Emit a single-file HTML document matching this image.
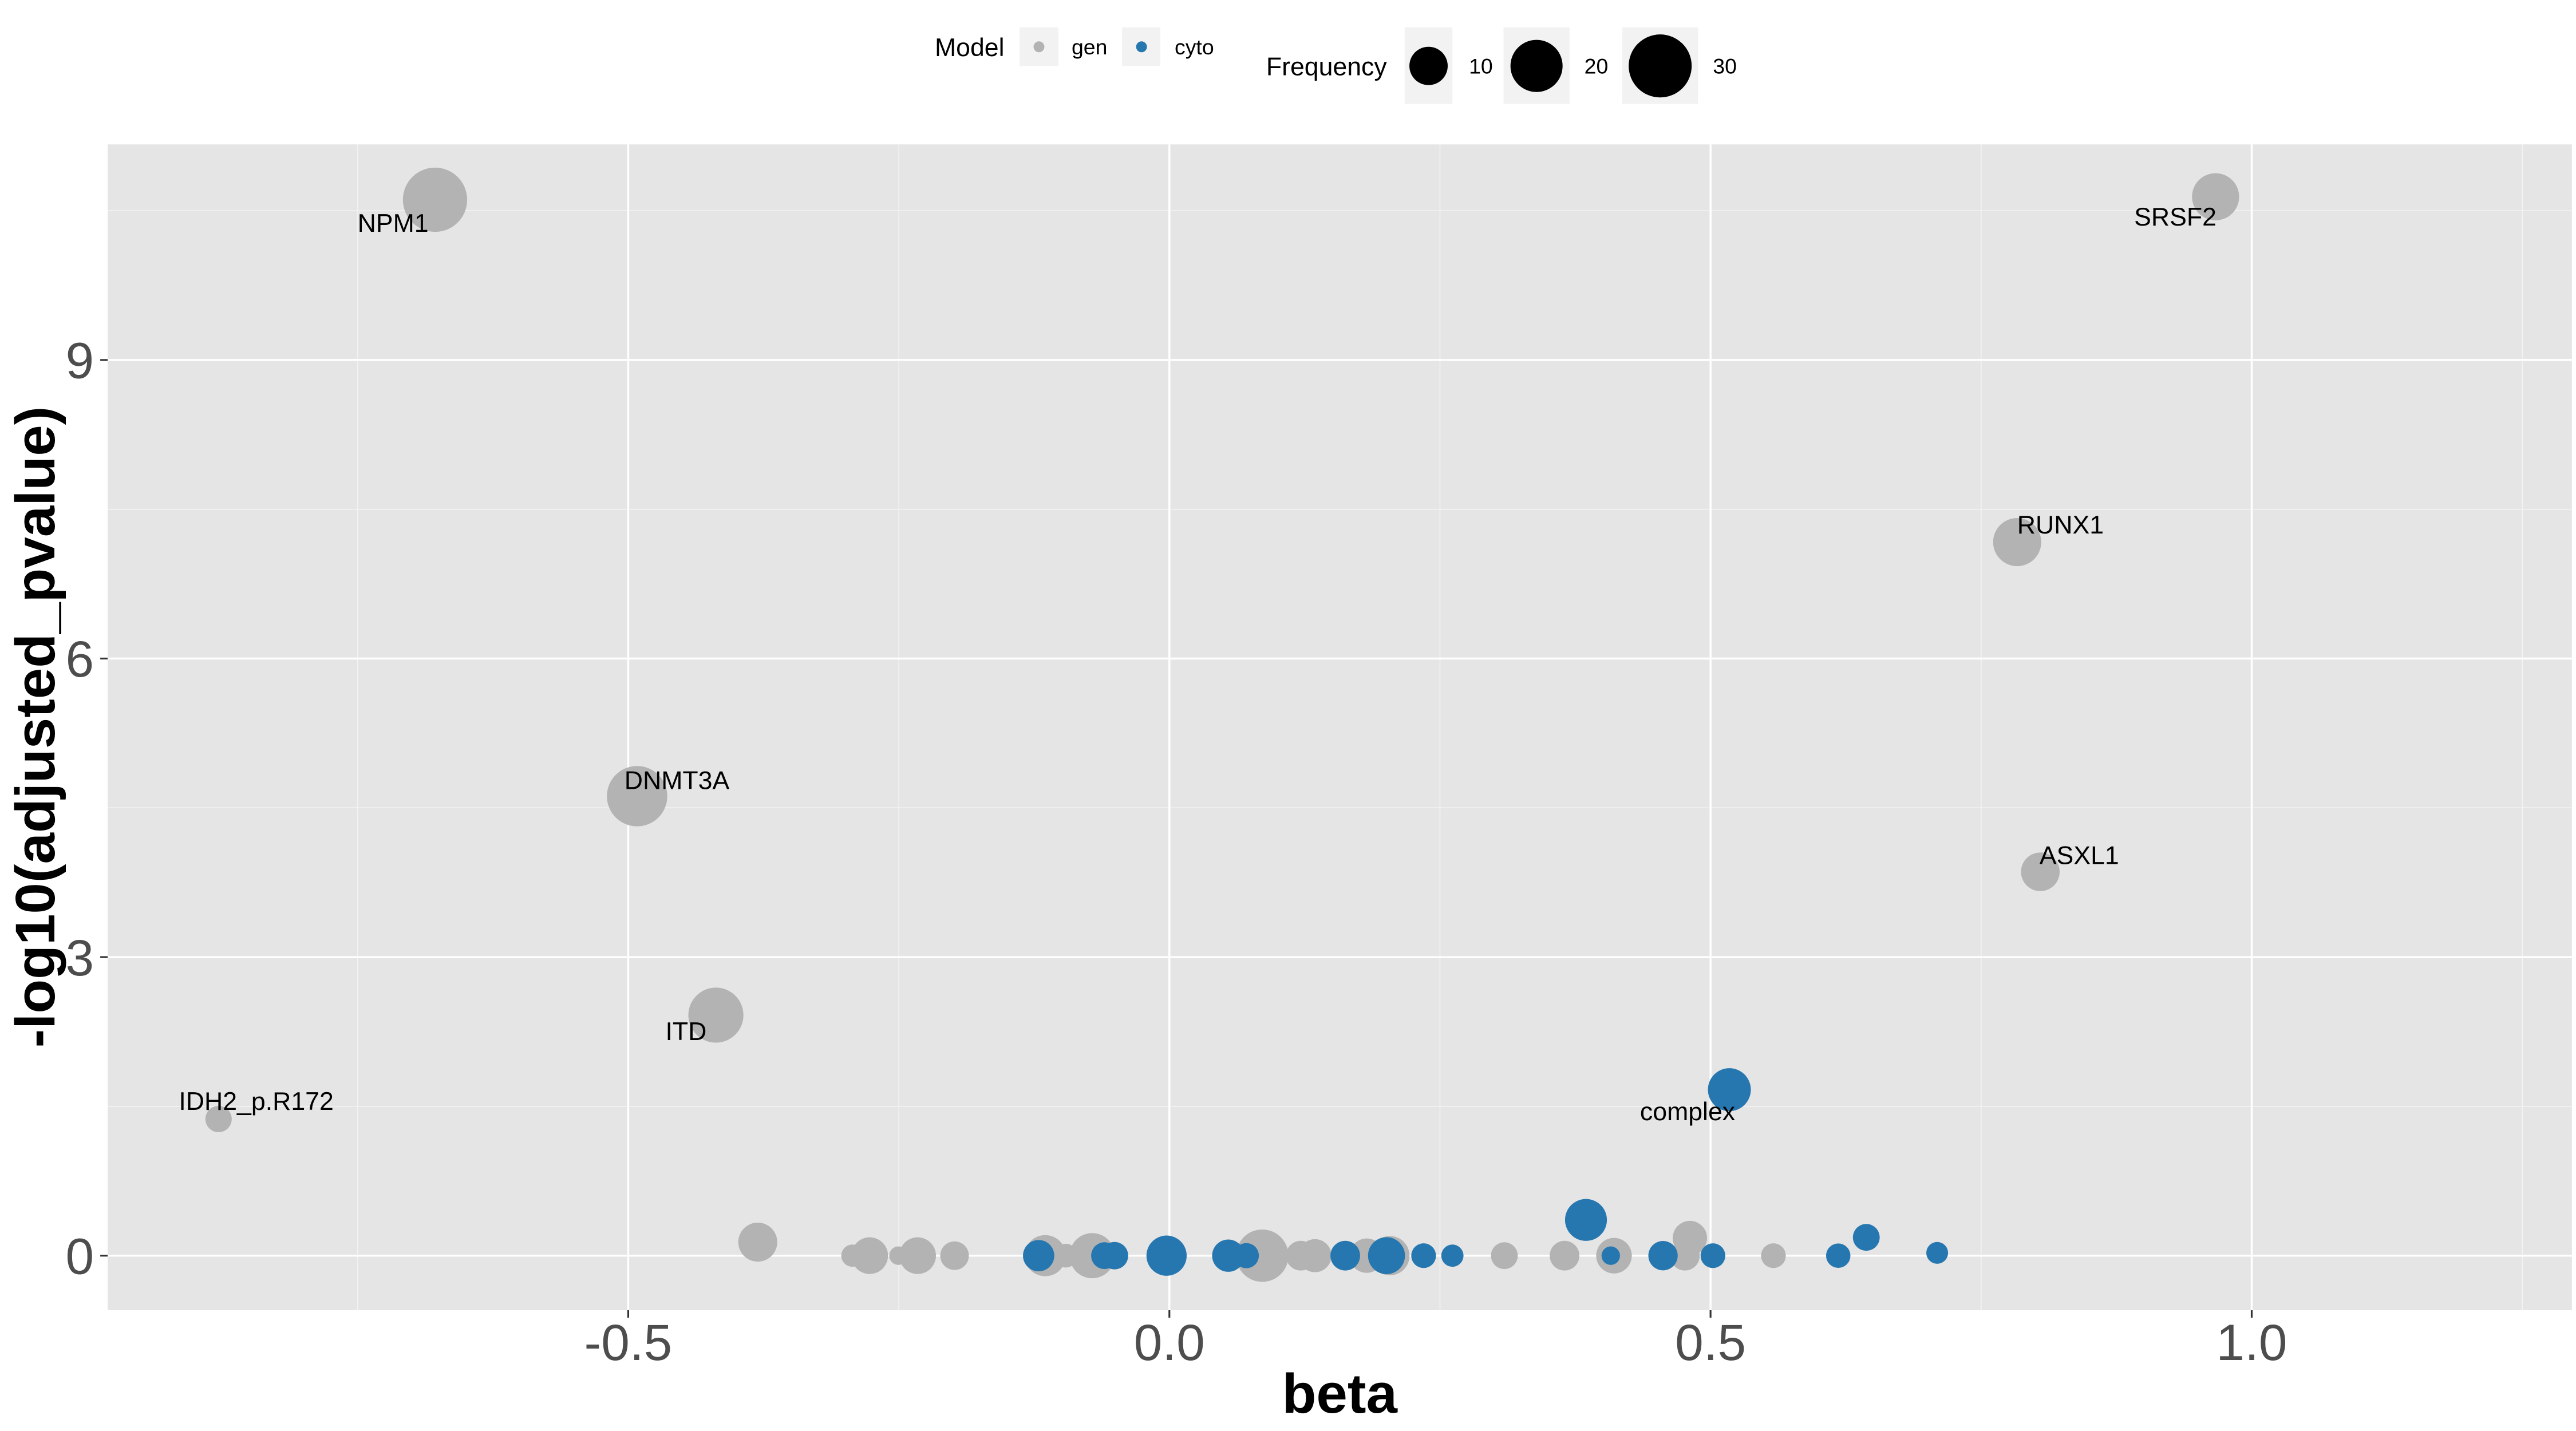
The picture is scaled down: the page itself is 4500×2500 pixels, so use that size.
<!DOCTYPE html>
<html><head><meta charset="utf-8"><style>
html,body{margin:0;padding:0;background:#fff;}
svg{display:block;font-family:"Liberation Sans",Arial,sans-serif;}
</style></head><body>
<svg id="chart" xmlns="http://www.w3.org/2000/svg" width="4500" height="2500" viewBox="0 0 1562.5 868.06">
<rect x="0" y="0" width="1562.5" height="868.06" fill="#ffffff"/>
<g id="panel"></g>
<g id="points"></g>
<g id="labels"></g>
<g id="axes"></g>
<text x="812.6" y="857" text-anchor="middle" font-size="34" font-weight="bold" fill="#000">beta</text>
<text transform="translate(33,441) rotate(-90)" text-anchor="middle" font-size="34" font-weight="bold" fill="#000">-log10(adjusted_pvalue)</text>
<g id="legend">
  <text x="567" y="34" font-size="15.5" fill="#000">Model</text>
  <rect x="618.4" y="16.6" width="23.6" height="23.4" fill="#F2F2F2"/>
  <circle cx="630.2" cy="28.4" r="3.3" fill="#B3B3B3"/>
  <text x="650" y="33" font-size="13" fill="#000">gen</text>
  <rect x="680.6" y="16.6" width="23.2" height="23.4" fill="#F2F2F2"/>
  <circle cx="692.4" cy="28.4" r="3.3" fill="#2677B0"/>
  <text x="712.5" y="33" font-size="13" fill="#000">cyto</text>
  <text x="768" y="45.7" font-size="15.5" fill="#000">Frequency</text>
  <g id="freqLegend"></g>
</g>
</svg>
<script>
// ---- data ----
const genBeta = [-0.6785, 0.9666, 0.7833, -0.4918, 0.8047, -0.4190, -0.8785,
  -0.3803, -0.2929, -0.2769, -0.2503, -0.2326, -0.1985, -0.1147, -0.0957, -0.0713, 0.0858, 0.1214, 0.1345, 0.1823, 0.2037, 0.3095, 0.3651, 0.4108, 0.4763, 0.4809, 0.5581];
const genLogP = [10.61, 10.64, 7.17, 4.617, 3.857, 2.417, 1.373,
  0.136, 0, 0, 0, 0, 0, 0, 0, 0, 0, 0, 0, 0, 0, 0, 0, 0, 0, 0.177, 0];
const genFreq = [31.3, 16.0, 16.8, 27.4, 10.2, 22.5, 3.8,
  10.4, 2.2, 9.0, 1.0, 9.0, 4.8, 11.8, 2.8, 14.6, 20.2, 5.3, 7.0, 7.7, 10.6, 4.0, 5.3, 8.4, 5.3, 7.7, 3.15];
const genNames = ["NPM1", "SRSF2", "RUNX1", "DNMT3A", "ASXL1", "ITD", "IDH2_p.R172"];

const cytoBeta = [0.5174, -0.1208, -0.0599, -0.0507, -0.0026, 0.0544, 0.0711, 0.1625, 0.2006, 0.2349, 0.2615, 0.3849, 0.4078, 0.4561, 0.5022, 0.6180, 0.6439, 0.7094];
const cytoLogP = [1.668, 0, 0, 0, 0, 0, 0, 0, 0, 0, 0, 0.359, 0, 0, 0, 0, 0.184, 0.028];
const cytoFreq = [13.0, 6.1, 4.0, 4.25, 11.2, 6.6, 3.3, 5.3, 9.2, 3.15, 2.2, 12.3, 1.0, 5.15, 3.15, 3.0, 4.0, 2.05];
const cytoNames = ["complex"];

const xTicks = [-0.5, 0.0, 0.5, 1.0];
const xTickLabels = ["-0.5", "0.0", "0.5", "1.0"];
const xMinor = [-0.75, -0.25, 0.25, 0.75, 1.25];
const yTicks = [0, 3, 6, 9];
const yTickLabels = ["0", "3", "6", "9"];
const yMinor = [1.5, 4.5, 7.5, 10.5];
const freqLegendValues = [10, 20, 30];
const freqLegendLabels = ["10", "20", "30"];

// ---- layout / scales ----
const P = {l: 65.3, r: 1560, t: 87.6, b: 794.8};
function xS(b){ return 709.3 + 656.5*b; }
function yS(v){ return 761.7 - 60.37*v; }
function rS(f){ return Math.sqrt(20 + 11.5*f); }
const NS = "http://www.w3.org/2000/svg";
function mk(tag, attrs, parent){
  const e = document.createElementNS(NS, tag);
  for (const k in attrs) e.setAttribute(k, attrs[k]);
  parent.appendChild(e); return e;
}
const panel = document.getElementById('panel');
const bg = mk('rect', {x:P.l, y:P.t, width:P.r-P.l, height:P.b-P.t, fill:'#E5E5E5'}, panel);


xMinor.forEach(v => {
  const l = mk('line', {x1:xS(v), x2:xS(v), y1:P.t, y2:P.b, stroke:'#F2F2F2', 'stroke-width':0.6}, panel);
  
  
});
yMinor.forEach(v => {
  const l = mk('line', {x1:P.l, x2:P.r, y1:yS(v), y2:yS(v), stroke:'#F2F2F2', 'stroke-width':0.6}, panel);
  
  
});
xTicks.forEach(v => {
  const l = mk('line', {x1:xS(v), x2:xS(v), y1:P.t, y2:P.b, stroke:'#FFFFFF', 'stroke-width':1.2}, panel);
  
  
});
yTicks.forEach(v => {
  const l = mk('line', {x1:P.l, x2:P.r, y1:yS(v), y2:yS(v), stroke:'#FFFFFF', 'stroke-width':1.2}, panel);
  
  
});

// ---- axes ----
const axes = document.getElementById('axes');
xTicks.forEach((v,i) => {
  const t = mk('line', {x1:xS(v), x2:xS(v), y1:P.b, y2:P.b+4.5, stroke:'#333', 'stroke-width':1.1}, axes);
  
  
  const tx = mk('text', {x:xS(v), y:825, 'text-anchor':'middle', 'font-size':31, fill:'#4D4D4D'}, axes);
  tx.textContent = xTickLabels[i];
  
  
});
yTicks.forEach((v,i) => {
  const t = mk('line', {x1:P.l-4.5, x2:P.l, y1:yS(v), y2:yS(v), stroke:'#333', 'stroke-width':1.1}, axes);
  
  
  const tx = mk('text', {x:57, y:yS(v)+11, 'text-anchor':'end', 'font-size':31, fill:'#4D4D4D'}, axes);
  tx.textContent = yTickLabels[i];
  
  
});

// ---- points ----
const pts = document.getElementById('points');
genBeta.forEach((b,i) => {
  const c = mk('circle', {cx:xS(b), cy:yS(genLogP[i]), r:rS(genFreq[i]), fill:'#B3B3B3'}, pts);
  
  
});
cytoBeta.forEach((b,i) => {
  const c = mk('circle', {cx:xS(b), cy:yS(cytoLogP[i]), r:rS(cytoFreq[i]), fill:'#2677B0'}, pts);
  
  
});

// ---- labels (offsets in px from the point) ----
const genLabelOffsets = [[-47,19.5],[-49.4,17.5],[0,-5.2],[-7.7,-4.3],[-0.5,-4.7],[-30.6,15.1],[-24.1,-5.5]];
const cytoLabelOffsets = [[-54.2,18.5]];
const labs = document.getElementById('labels');
genNames.forEach((n,i) => {
  const t = mk('text', {x:xS(genBeta[i])+genLabelOffsets[i][0], y:yS(genLogP[i])+genLabelOffsets[i][1], 'font-size':15.5, fill:'#000'}, labs);
  t.textContent = n;
  
  
});
cytoNames.forEach((n,i) => {
  const t = mk('text', {x:xS(cytoBeta[i])+cytoLabelOffsets[i][0], y:yS(cytoLogP[i])+cytoLabelOffsets[i][1], 'font-size':15.5, fill:'#000'}, labs);
  t.textContent = n;
  
  
});

// ---- frequency legend ----
const fl = document.getElementById('freqLegend');
const keyBoxes = [[852,29],[912,40],[984,46]];
const keyLabelX = [891,961,1039];
freqLegendValues.forEach((f,i) => {
  const bx = mk('rect', {x:keyBoxes[i][0], y:16.6, width:keyBoxes[i][1], height:46.4, fill:'#F2F2F2'}, fl);
  
  
  const c = mk('circle', {cx:keyBoxes[i][0]+keyBoxes[i][1]/2, cy:40, r:rS(f), fill:'#000'}, fl);
  
  
  const t = mk('text', {x:keyLabelX[i], y:44.6, 'font-size':13, fill:'#000'}, fl);
  t.textContent = freqLegendLabels[i];
  
  
});
</script>
</body></html>
